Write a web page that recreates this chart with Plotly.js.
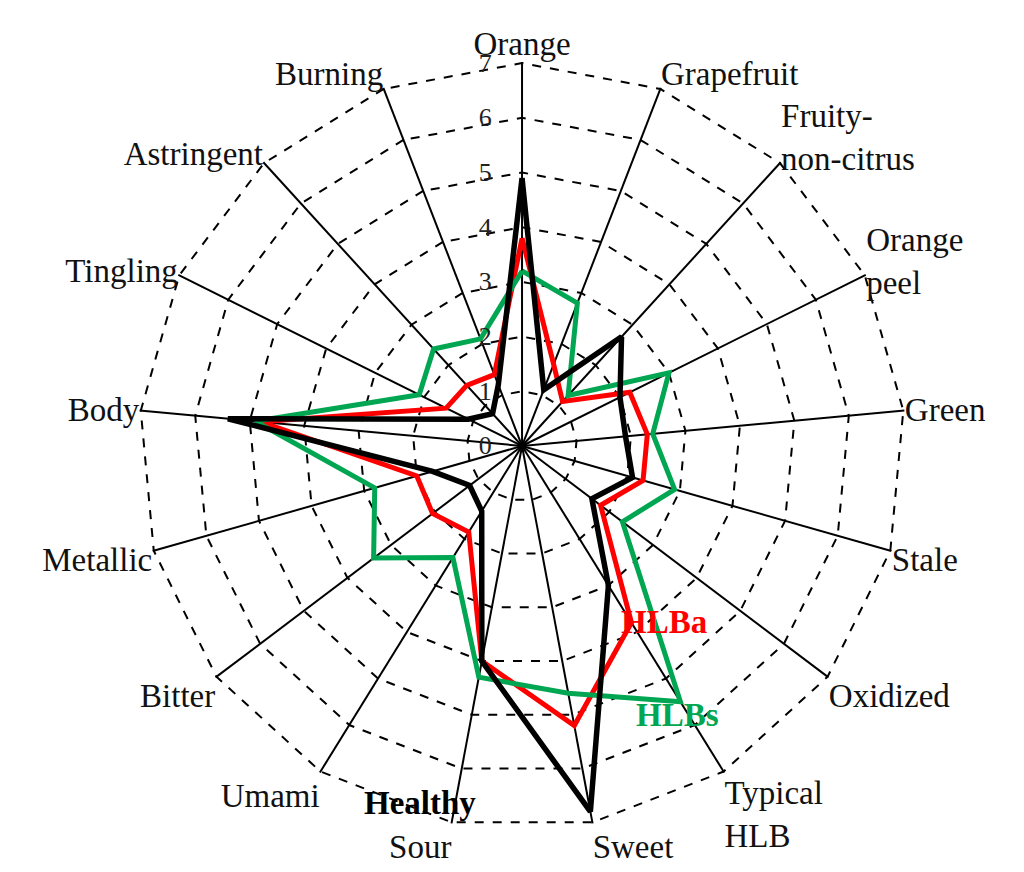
<!DOCTYPE html>
<html>
<head>
<meta charset="utf-8">
<script src="https://cdn.plot.ly/plotly-3.0.1.min.js"></script>
<style>
  html, body { margin: 0; padding: 0; background: #fff; }
  #chart { width: 1024px; height: 872px; }
</style>
</head>
<body>
<div id="chart"></div>
<script>
var attributes = ['Orange', 'Grapefruit', 'Fruity-<br>non-citrus', 'Orange<br>peel', 'Green', 'Stale',
  'Oxidized', 'Typical<br>HLB', 'Sweet', 'Sour', 'Umami', 'Bitter', 'Metallic', 'Body',
  'Tingling', 'Astringent', 'Burning'];

var healthy = [4.9, 1.1, 2.7, 2.0, 1.9, 2.1, 1.6, 3.0, 6.8, 4.0, 1.4, 1.2, 1.7, 5.4, 1.1, 0.8, 1.2];
var hlba    = [3.8, 1.6, 1.1, 2.2, 2.3, 2.3, 1.8, 3.8, 5.2, 4.0, 1.85, 2.05, 2.0, 4.8, 1.55, 1.5, 1.4];
var hlbs    = [3.2, 2.8, 1.25, 3.0, 2.4, 2.9, 2.3, 5.5, 4.6, 4.3, 2.4, 3.4, 2.8, 4.9, 2.1, 2.4, 2.1];

var radialTicks = [0, 1, 2, 3, 4, 5, 6, 7];

function closed(arr) { return arr.concat([arr[0]]); }

function series(name, values, color, width) {
  return {
    type: 'scatterpolar',
    mode: 'lines',
    name: name,
    r: closed(values),
    theta: closed(attributes),
    line: {color: color, width: width},
    hoverinfo: 'name+r+theta'
  };
}

var data = [
  series('HLBa', hlba, '#ff0000', 5),
  series('HLBs', hlbs, '#00a651', 5),
  series('Healthy', healthy, '#000000', 5.5)
];

var serif = 'Liberation Serif, Times New Roman, serif';
// invisible tail pushes the centred radial labels to the left of the Orange spoke
var radialText = radialTicks.map(function (v) {
  return v + '<span style="color:rgba(255,255,255,0)">00</span>';
});

var layout = {
  width: 1024,
  height: 872,
  margin: {l: 0, r: 0, t: 0, b: 0},
  paper_bgcolor: '#fff',
  showlegend: false,
  font: {family: serif, size: 33, color: '#111'},
  polar: {
    domain: {x: [0.1348, 0.8848], y: [0.0482, 0.9289]},
    gridshape: 'linear',
    bgcolor: 'rgba(0,0,0,0)',
    angularaxis: {
      type: 'category',
      categoryarray: attributes,
      rotation: 90,
      direction: 'clockwise',
      showline: false,
      gridcolor: '#000',
      gridwidth: 1.5,
      ticks: '',
      tickfont: {family: serif, size: 33, color: '#111'}
    },
    radialaxis: {
      range: [0, 7.02],
      tickmode: 'array',
      tickvals: radialTicks,
      ticktext: radialText,
      angle: 90,
      tickangle: 90,
      side: 'counterclockwise',
      showline: false,
      ticks: '',
      gridcolor: '#000',
      gridwidth: 1.5,
      griddash: 'dash',
      tickfont: {family: serif, size: 26, color: '#222'}
    }
  },
  annotations: [
    {text: '<b>HLBa</b>', x: 0.648, y: 0.264, xref: 'paper', yref: 'paper', showarrow: false,
     font: {family: serif, size: 33, color: '#ff0000'}},
    {text: '<b>HLBs</b>', x: 0.662, y: 0.157, xref: 'paper', yref: 'paper', showarrow: false,
     font: {family: serif, size: 33, color: '#00a651'}},
    {text: '<b>Healthy</b>', x: 0.41, y: 0.056, xref: 'paper', yref: 'paper', showarrow: false,
     font: {family: serif, size: 33, color: '#000'}}
  ]
};

Plotly.newPlot('chart', data, layout, {displayModeBar: false});
</script>
</body>
</html>
